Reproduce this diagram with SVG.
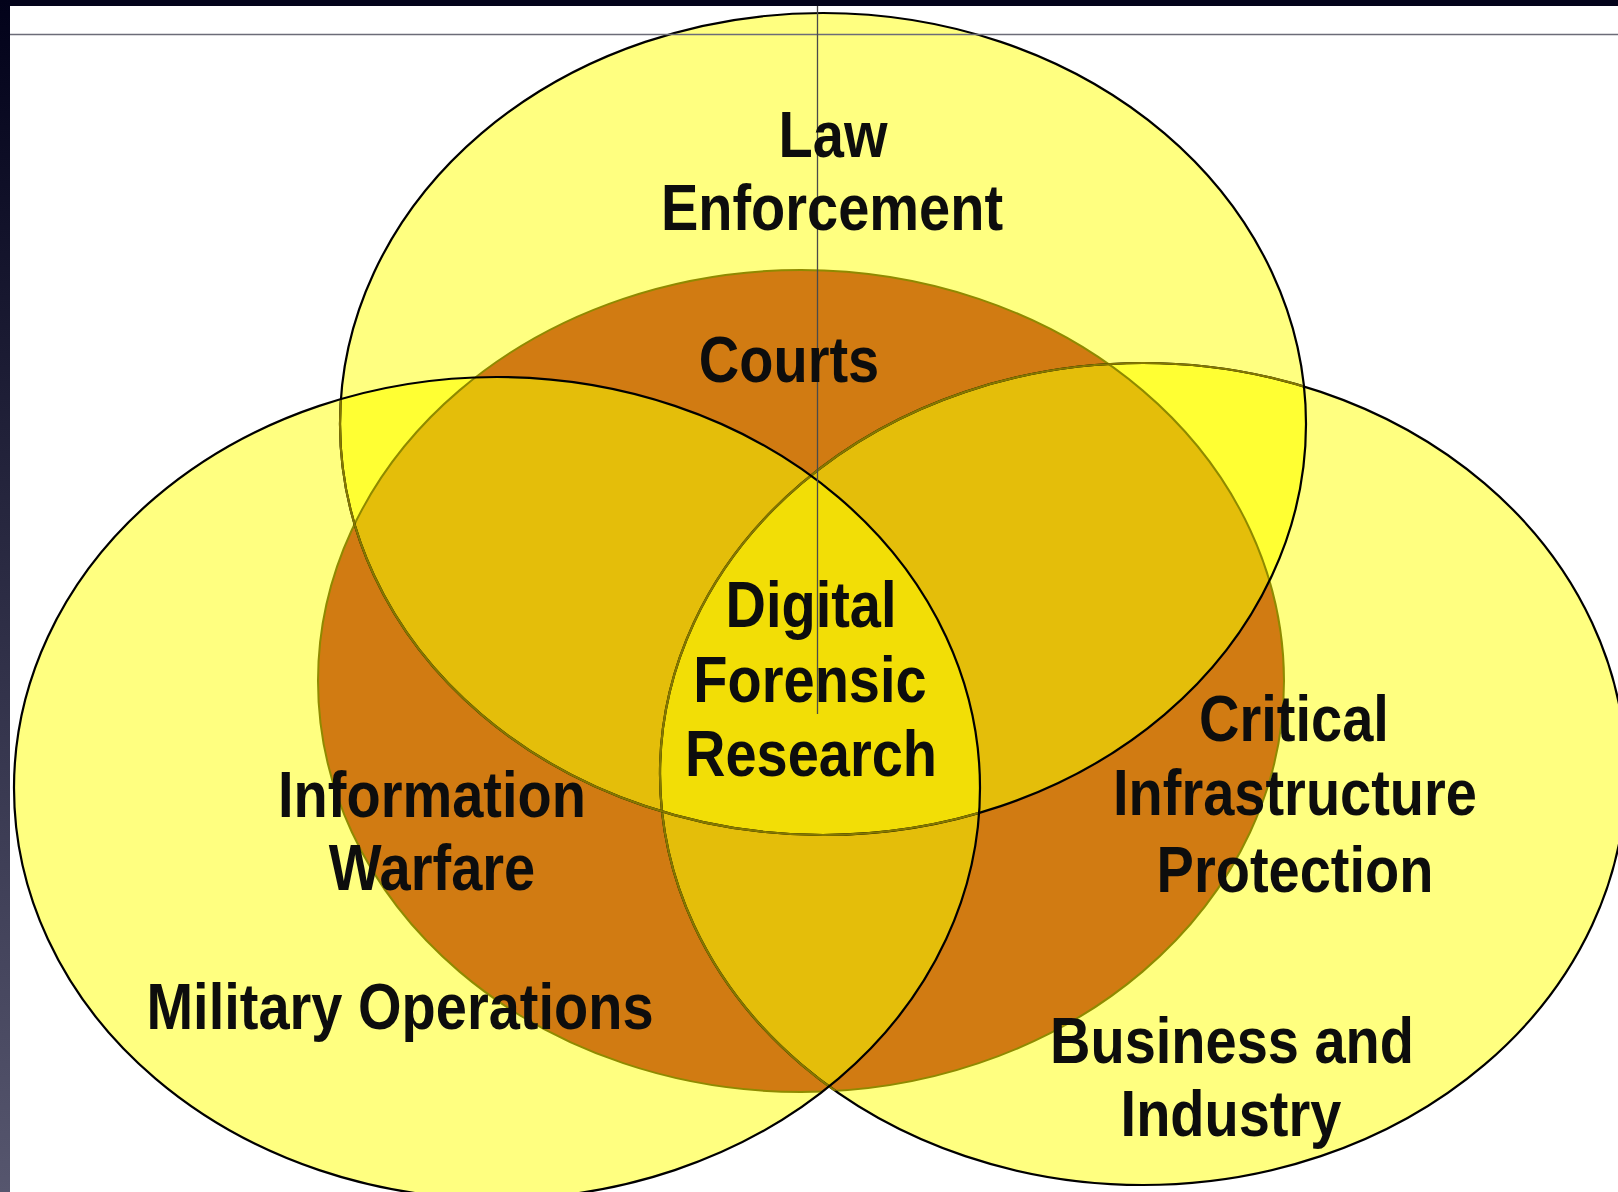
<svg xmlns="http://www.w3.org/2000/svg" xmlns:xlink="http://www.w3.org/1999/xlink" width="1618" height="1192" viewBox="0 0 1618 1192">
<style>
.lbl{font-family:"Liberation Sans",Arial,sans-serif;font-weight:bold;font-size:56px;text-anchor:middle;fill:#0d0d0d}
.blk{fill:none;stroke:#000;stroke-width:2.2}
.olv{fill:none;stroke:#857800;stroke-width:2.2}
</style>
<defs>
<ellipse id="eT" cx="823" cy="424" rx="483" ry="411"/>
<ellipse id="eL" cx="497" cy="788" rx="483" ry="411"/>
<ellipse id="eR" cx="1143" cy="774" rx="483" ry="411"/>
<ellipse id="eB" cx="801" cy="681" rx="483" ry="411"/>
<clipPath id="cT"><use xlink:href="#eT"/></clipPath>
<clipPath id="cL"><use xlink:href="#eL"/></clipPath>
<clipPath id="cR"><use xlink:href="#eR"/></clipPath>
<clipPath id="cB"><use xlink:href="#eB"/></clipPath>
<clipPath id="cU"><use xlink:href="#eT"/><use xlink:href="#eL"/><use xlink:href="#eR"/></clipPath>
<clipPath id="cTLB"><use xlink:href="#eT"/><use xlink:href="#eL"/><use xlink:href="#eB"/></clipPath>
<linearGradient id="band" x1="0" y1="0" x2="0" y2="1">
<stop offset="0" stop-color="#02021a"/>
<stop offset="1" stop-color="#56566e"/>
</linearGradient>
</defs>
<rect x="0" y="0" width="1618" height="1192" fill="#ffffff"/>

<g id="venn-fills">
<use xlink:href="#eT" fill="#FFFF80"/>
<use xlink:href="#eL" fill="#FFFF80"/>
<use xlink:href="#eR" fill="#FFFF80"/>
<use xlink:href="#eT" clip-path="url(#cL)" fill="#FFFF33"/>
<use xlink:href="#eT" clip-path="url(#cR)" fill="#FFFF33"/>
<use xlink:href="#eL" clip-path="url(#cR)" fill="#FFFF33"/>
<g clip-path="url(#cU)"><use xlink:href="#eB" fill="#D17B12"/></g>
<g clip-path="url(#cB)">
<use xlink:href="#eT" clip-path="url(#cL)" fill="#E4BE0A"/>
<use xlink:href="#eT" clip-path="url(#cR)" fill="#E4BE0A"/>
<use xlink:href="#eL" clip-path="url(#cR)" fill="#E4BE0A"/>
<g clip-path="url(#cT)"><use xlink:href="#eL" clip-path="url(#cR)" fill="#F2DE06"/></g>
</g>
</g>

<g id="venn-outlines">
<g clip-path="url(#cU)"><use xlink:href="#eB" fill="none" stroke="#8f8a00" stroke-width="2"/></g>
<use xlink:href="#eR" class="blk"/>
<g clip-path="url(#cTLB)"><use xlink:href="#eR" class="olv"/></g>
<use xlink:href="#eT" class="blk"/>
<g clip-path="url(#cL)"><use xlink:href="#eT" class="olv"/></g>
<use xlink:href="#eL" class="blk"/>
</g>

<g id="frame">
<rect x="0" y="0" width="1618" height="6" fill="#03031a"/>
<rect x="0" y="0" width="10" height="1192" fill="url(#band)"/>
<line x1="10" y1="34.5" x2="1618" y2="34.5" stroke="#6c6c78" stroke-width="1.3"/>
<line x1="817.5" y1="6" x2="817.5" y2="714" stroke="#4a4a4a" stroke-width="1.3"/>
</g>

<g id="node-law-enforcement">
<text class="lbl" transform="translate(833,157) scale(1,1.15)">Law</text>
<text class="lbl" transform="translate(832,230) scale(1,1.15)">Enforcement</text>
</g>
<g id="node-courts">
<text class="lbl" transform="translate(789,382) scale(1,1.15)">Courts</text>
</g>
<g id="node-digital-forensic-research">
<text class="lbl" transform="translate(811,627) scale(1,1.15)">Digital</text>
<text class="lbl" transform="translate(810,702) scale(1,1.15)">Forensic</text>
<text class="lbl" transform="translate(811,776) scale(1,1.15)">Research</text>
</g>
<g id="node-information-warfare">
<text class="lbl" transform="translate(432,817) scale(1,1.15)">Information</text>
<text class="lbl" transform="translate(432,890) scale(1,1.15)">Warfare</text>
</g>
<g id="node-military-operations">
<text class="lbl" transform="translate(400,1029) scale(1,1.15)">Military Operations</text>
</g>
<g id="node-critical-infrastructure">
<text class="lbl" transform="translate(1294,741) scale(1,1.15)">Critical</text>
<text class="lbl" transform="translate(1295,815) scale(1,1.15)">Infrastructure</text>
<text class="lbl" transform="translate(1295,892) scale(1,1.15)">Protection</text>
</g>
<g id="node-business-industry">
<text class="lbl" transform="translate(1232,1063) scale(1,1.15)">Business and</text>
<text class="lbl" transform="translate(1231,1136) scale(1,1.15)">Industry</text>
</g>
</svg>
